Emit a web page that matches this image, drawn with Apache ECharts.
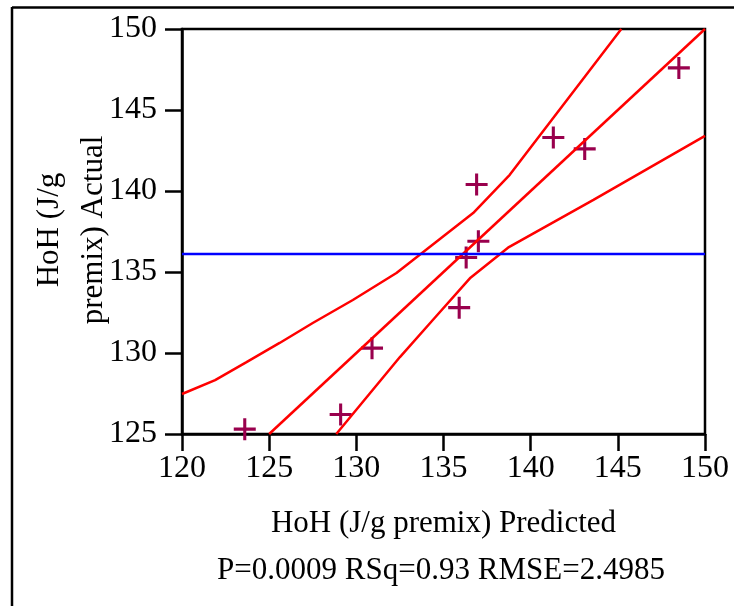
<!DOCTYPE html>
<html>
<head>
<meta charset="utf-8">
<script src="https://cdn.jsdelivr.net/npm/echarts@6/dist/echarts.min.js"></script>
<style>
  html, body { margin: 0; padding: 0; background: #fff; }
  #chart { width: 734px; height: 606px; }
</style>
</head>
<body>
<div id="chart"></div>
<script>
// points: predicted vs actual
const predicted = [123.6, 129.1, 130.9, 135.9, 136.3, 137.0, 136.9, 141.3, 143.1, 148.5];
const actual = [125.3, 126.2, 130.3, 132.8, 135.9, 136.9, 140.4, 143.3, 142.6, 147.6];

// fit line and mean line
const fitX = [125, 150];
const fitY = [125, 150];
const meanX = [120, 150];
const meanY = [136.11, 136.11];

// confidence curves
const upperX = [120, 121.9, 123.7, 125.6, 127.5, 129.8, 132.3, 136.7, 138.8, 145.2];
const upperY = [127.47, 128.33, 129.44, 130.62, 131.85, 133.27, 134.94, 138.64, 141.0, 150];
const lowerX = [128.85, 132.5, 134.4, 136.55, 138.7, 143.6, 150];
const lowerY = [125, 129.75, 132.05, 134.65, 136.5, 139.45, 143.4];

const xTicks = [120, 125, 130, 135, 140, 145, 150];
const yTicks = [125, 130, 135, 140, 145, 150];

const zip = (xs, ys) => xs.map((x, i) => [x, ys[i]]);
const font = "Liberation Serif";
const plus = "path://M43,0H57V43H100V57H57V100H43V57H0V43H43Z";

const chart = echarts.init(document.getElementById("chart"));
chart.setOption({
  animation: false,
  grid: {
    left: 182, top: 29, right: 29, bottom: 172,
    show: true, borderColor: "#000", borderWidth: 2.5, backgroundColor: "transparent"
  },
  xAxis: {
    type: "value",
    min: xTicks[0], max: xTicks[xTicks.length - 1], interval: 5,
    name: "HoH (J/g premix) Predicted",
    nameLocation: "middle", nameGap: 74,
    nameTextStyle: { fontFamily: font, fontSize: 31, color: "#000" },
    axisLine: { lineStyle: { color: "#000", width: 2.5 } },
    axisTick: { length: 17, lineStyle: { color: "#000", width: 2.5 } },
    axisLabel: { margin: 19, fontFamily: font, fontSize: 32, color: "#000" },
    splitLine: { show: false }
  },
  yAxis: {
    type: "value",
    min: yTicks[0], max: yTicks[yTicks.length - 1], interval: 5,
    axisLine: { lineStyle: { color: "#000", width: 2.5 } },
    axisTick: { length: 17, lineStyle: { color: "#000", width: 2.5 } },
    axisLabel: { margin: 25, fontFamily: font, fontSize: 32, color: "#000" },
    splitLine: { show: false }
  },
  graphic: [
    { type: "line", shape: { x1: 12, y1: 7.5, x2: 734, y2: 7.5 }, style: { stroke: "#000", lineWidth: 2.5 } },
    { type: "line", shape: { x1: 12, y1: 7, x2: 12, y2: 606 }, style: { stroke: "#000", lineWidth: 2.5 } },
    {
      type: "text", x: 72, y: 230, rotation: Math.PI / 2,
      style: {
        text: "HoH (J/g\npremix) Actual", font: "31px " + font, fill: "#000",
        align: "center", verticalAlign: "middle", lineHeight: 44
      }
    },
    {
      type: "text", x: 441, y: 571,
      style: {
        text: "P=0.0009 RSq=0.93 RMSE=2.4985", font: "31px " + font, fill: "#000",
        align: "center", verticalAlign: "middle"
      }
    }
  ],
  series: [
    { type: "line", data: zip(upperX, upperY), symbol: "none", lineStyle: { color: "#ff0000", width: 2.5 } },
    { type: "line", data: zip(lowerX, lowerY), symbol: "none", lineStyle: { color: "#ff0000", width: 2.5 } },
    { type: "line", data: zip(fitX, fitY), symbol: "none", lineStyle: { color: "#ff0000", width: 2.5 } },
    { type: "line", data: zip(meanX, meanY), symbol: "none", lineStyle: { color: "#0000ff", width: 2.5 } },
    {
      type: "scatter", data: zip(predicted, actual),
      symbol: plus, symbolSize: 22,
      itemStyle: { color: "#99004d", opacity: 1 }
    }
  ]
});
</script>
</body>
</html>
